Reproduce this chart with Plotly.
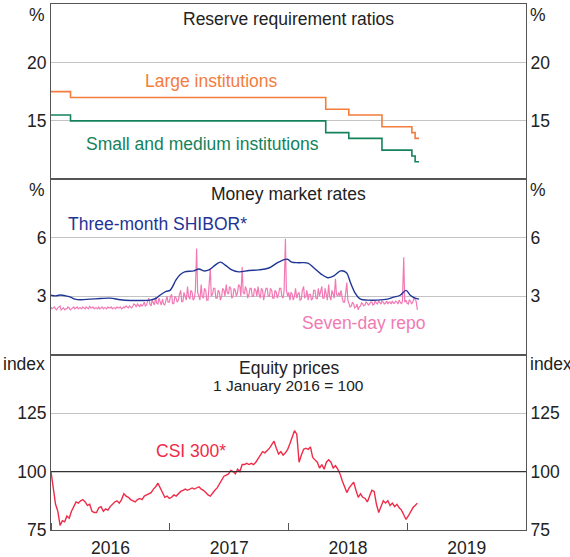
import pandas as pd
import plotly.graph_objects as go
from plotly.subplots import make_subplots

# Reserve requirement ratios (%), step changes
rrr_dates = ["2016-01-01", "2016-03-01", "2018-04-25", "2018-07-05", "2018-10-15",
             "2019-01-15", "2019-01-25", "2019-02-06"]
rrr_large = [17.5, 17.0, 16.0, 15.5, 14.5, 14.0, 13.5, 13.5]
rrr_small = [15.5, 15.0, 14.0, 13.5, 12.5, 12.0, 11.5, 11.5]

# Three-month SHIBOR (%)
shibor_dates = ["2016-01-01", "2016-01-15", "2016-01-29", "2016-02-15", "2016-03-01", "2016-03-15",
                "2016-04-01", "2016-05-01", "2016-06-01", "2016-07-01", "2016-08-01", "2016-09-01",
                "2016-10-01", "2016-11-01", "2016-11-20", "2016-12-01", "2016-12-20", "2017-01-01",
                "2017-01-20", "2017-02-01", "2017-02-15", "2017-03-15", "2017-03-31", "2017-04-15",
                "2017-05-01", "2017-05-20", "2017-06-05", "2017-06-20", "2017-07-10", "2017-08-01",
                "2017-09-01", "2017-10-01", "2017-11-01", "2017-12-01", "2017-12-28", "2018-01-10",
                "2018-02-01", "2018-03-01", "2018-03-20", "2018-04-10", "2018-05-01", "2018-05-20",
                "2018-06-10", "2018-06-28", "2018-07-10", "2018-07-25", "2018-08-10", "2018-09-01",
                "2018-10-01", "2018-11-01", "2018-11-20", "2018-12-10", "2018-12-28", "2019-01-10",
                "2019-01-25", "2019-02-06"]
shibor = [3.05, 3.02, 3.06, 3.02, 2.95, 2.85,
          2.82, 2.85, 2.88, 2.90, 2.82, 2.78,
          2.78, 2.80, 2.90, 3.05, 3.25, 3.30,
          3.85, 4.10, 4.25, 4.30, 4.40, 4.30,
          4.35, 4.60, 4.75, 4.60, 4.35, 4.25,
          4.32, 4.35, 4.45, 4.75, 4.90, 4.75,
          4.72, 4.70, 4.45, 4.15, 3.95, 4.05,
          4.30, 4.20, 3.70, 3.15, 2.85, 2.80,
          2.80, 2.85, 2.95, 3.05, 3.30, 3.05,
          2.90, 2.85]

# Seven-day repo (%), weekly (Fridays) from 1 Jan 2016
repo = [2.45, 2.4, 2.35, 2.4, 2.5, 2.35, 2.3, 2.35, 2.4, 2.35, 2.45,
        2.4, 2.35, 2.4, 2.45, 2.35, 2.4, 2.5, 2.4, 2.35, 2.4,
        2.45, 2.4, 2.35, 2.4, 2.45, 2.4, 2.35, 2.4, 2.45, 2.4,
        2.35, 2.45, 2.5, 2.4, 2.45, 2.5, 2.55, 2.6, 2.45, 2.5,
        2.7, 2.55, 2.9, 2.5, 2.6, 2.95, 2.6, 2.7, 2.85, 2.55, 3.0,
        2.7, 3.1, 2.65, 2.9, 2.8, 3.3, 2.75, 3.0, 3.5, 2.85, 3.2, 2.9,
        5.45, 3.0,
        3.6, 2.9, 3.3, 2.8, 4.45, 3.1, 3.4, 2.9, 3.2, 3.0,
        3.3, 3.6, 3.1, 3.4, 3.0, 3.3, 3.2, 3.5, 4.5, 3.1,
        3.3, 3.1, 3.4, 3.0, 3.3, 3.5, 2.9, 3.3, 3.1, 3.4,
        3.0, 3.3, 2.9, 3.2, 3.1, 3.4, 2.9,
        5.95, 3.0,
        2.8, 3.1, 3.0, 2.9, 3.2, 2.85, 3.5, 3.0, 2.8, 3.1, 2.9,
        3.3, 2.85, 3.0, 3.5, 2.9, 3.1, 3.6, 2.8, 3.1, 3.9, 3.0,
        3.0, 2.9, 2.7, 3.7, 2.6,
        2.5, 2.6, 2.45, 2.3, 2.5, 2.6, 2.55, 2.65, 2.6,
        2.7, 2.6, 2.65, 2.75, 2.6, 2.7, 2.65, 2.6, 2.7, 2.75,
        2.65, 2.7, 2.8, 2.6,
        5.0, 2.8,
        2.6, 2.75, 2.7, 2.85, 2.3]

# Seven-day repo (%), mid-week readings between the Fridays above
repo_mid = [2.35, 2.45, 2.3, 2.45, 2.3, 2.4, 2.35, 2.45, 2.3, 2.4, 2.35,
            2.45, 2.4, 2.35, 2.4, 2.45, 2.35, 2.4, 2.45, 2.4, 2.35,
            2.35, 2.45, 2.4, 2.35, 2.4, 2.45, 2.4, 2.35, 2.4, 2.45,
            2.4, 2.4, 2.45, 2.5, 2.4, 2.6, 2.45, 2.5, 2.6, 2.55,
            2.5, 2.75, 2.6, 2.8, 2.55, 2.65, 2.9, 2.55, 2.6, 2.8, 2.7,
            2.95, 2.6, 3.0, 2.7, 3.1, 2.7, 3.2, 2.8, 3.0, 3.3, 2.8, 3.3,
            3.2, 2.8,
            3.0, 3.4, 2.8, 3.5, 3.0, 3.4, 2.9, 3.3, 2.8, 3.4,
            3.0, 3.2, 3.5, 2.9, 3.4, 3.0, 3.6, 3.0, 3.2, 3.5,
            2.9, 3.4, 3.0, 3.4, 3.0, 3.1, 3.4, 2.8, 3.4, 3.0,
            3.4, 2.9, 3.3, 2.9, 3.4, 3.0, 3.3,
            3.3, 3.2,
            3.2, 2.8, 3.4, 3.1, 2.8, 3.3, 2.9, 3.3, 3.1, 2.8, 3.3,
            2.9, 3.4, 3.3, 2.9, 3.4, 2.8, 3.0, 3.3, 2.9, 3.1, 3.2,
            3.3, 2.7, 3.1, 2.8, 2.45,
            2.7, 2.4, 2.6, 2.45, 2.65, 2.5, 2.7, 2.55, 2.7,
            2.55, 2.75, 2.6, 2.65, 2.75, 2.6, 2.75, 2.7, 2.6, 2.65,
            2.75, 2.6, 2.7, 2.75,
            2.7, 2.65,
            2.8, 2.6, 2.9, 2.75]

# CSI 300 (1 January 2016 = 100), weekly
csi300 = [100, 92, 86, 83, 77, 79, 78.5, 81, 80, 83,
          85, 87, 86.5, 87.5, 88, 87, 85.5, 86, 83, 82.5,
          82.5, 84.5, 85, 83, 84, 83.5, 85, 86, 87, 87.5,
          86.5, 88, 90.5, 89.5, 89, 88, 87.5, 87, 88, 88.5,
          88, 89.5, 90, 90.5, 91, 92.5, 93.5, 95, 93, 91,
          89, 89.5, 88.5, 89, 90, 89.5, 90.5, 91.5, 92, 92.5,
          92, 92.5, 93, 92.5, 93, 93.5, 92.5, 92, 91, 90,
          89.5, 91, 92, 93, 94.5, 96, 98, 98.5, 99, 100.5,
          100, 99, 101, 100, 103, 103, 103.5, 103, 103.5, 103,
          104, 105.5, 107, 108.5, 108, 109, 110, 111.5, 113, 110,
          107.5, 108.5, 107, 108, 109.5, 112, 114.5, 117.5, 116, 104,
          107, 109.5, 110, 109.5, 110.5, 106, 105, 104, 101.5, 103,
          101, 104, 105, 104, 101.5, 102.5, 101, 99, 96, 93,
          91, 93, 94.5, 95.5, 92, 89, 90.5, 89, 88.5, 87,
          89.5, 92, 91.5, 86, 82.5, 85, 87.5, 86.5, 87.5, 85.5,
          86.5, 85, 86, 84.5, 83.5, 81.5, 79.5, 81, 83, 84.5,
          85.5, 86.5]

# interleave weekly and mid-week repo readings
repo_week_dates = pd.date_range("2016-01-01", periods=len(repo), freq="7D")
repo_s = pd.concat([
    pd.Series(repo, index=repo_week_dates),
    pd.Series(repo_mid, index=repo_week_dates[:len(repo_mid)] + pd.Timedelta(days=3)),
]).sort_index()
csi_dates = pd.date_range("2016-01-01", periods=len(csi300), freq="7D")

orange = "#f47c3c"
green = "#14825a"
blue = "#1f3596"
pink = "#f27ab4"
red = "#ee2b48"
axis_col = "#555555"
grid_col = "#c4c4c4"
txt = "#222222"
font = "Liberation Sans, Arial, sans-serif"
fs = 17.5

fig = make_subplots(rows=3, cols=1, shared_xaxes=True, vertical_spacing=0,
                    specs=[[{"secondary_y": True}], [{"secondary_y": True}], [{"secondary_y": True}]])

fig.add_trace(go.Scatter(x=rrr_dates, y=rrr_large, mode="lines", line_shape="hv",
                         line=dict(color=orange, width=1.6), showlegend=False), row=1, col=1)
fig.add_trace(go.Scatter(x=rrr_dates, y=rrr_small, mode="lines", line_shape="hv",
                         line=dict(color=green, width=1.6), showlegend=False), row=1, col=1)
fig.add_trace(go.Scatter(x=repo_s.index, y=repo_s.values, mode="lines",
                         line=dict(color=pink, width=1.2), showlegend=False), row=2, col=1)
fig.add_trace(go.Scatter(x=shibor_dates, y=shibor, mode="lines", line_shape="spline",
                         line=dict(color=blue, width=1.4), showlegend=False), row=2, col=1)
fig.add_trace(go.Scatter(x=csi_dates, y=csi300, mode="lines",
                         line=dict(color=red, width=1.4), showlegend=False), row=3, col=1)

# invisible copies so the right-hand axes get drawn
for i, (xs, ys) in enumerate([(rrr_dates, rrr_large), (shibor_dates, shibor), (csi_dates, csi300)], start=1):
    fig.add_trace(go.Scatter(x=xs[:1], y=ys[:1], mode="markers", marker=dict(opacity=0),
                             hoverinfo="skip", showlegend=False), row=i, col=1, secondary_y=True)

ranges = [(10, 25, [15, 20]), (0, 9, [3, 6]), (75, 150, [75, 100, 125])]
for i, (lo, hi, tv) in enumerate(ranges, start=1):
    for sec in (False, True):
        fig.update_yaxes(range=[lo, hi], tickvals=tv, showgrid=not sec, gridcolor=grid_col,
                         gridwidth=1, showline=True, linecolor=axis_col, linewidth=1.2,
                         ticks="", ticklen=0, zeroline=False, automargin=False,
                         tickfont=dict(size=fs, color=txt, family=font),
                         row=i, col=1, secondary_y=sec)

for i in range(1, 4):
    fig.update_xaxes(range=["2016-01-01", "2020-01-01"], domain=[0, 1], showline=True, mirror=True,
                     linecolor=axis_col, linewidth=1.2, showgrid=False, zeroline=False,
                     automargin=False, row=i, col=1)

fig.update_xaxes(showticklabels=False, ticks="", row=1, col=1)
fig.update_xaxes(showticklabels=False, ticks="", row=2, col=1)
fig.update_xaxes(dtick="M12", tick0="2016-01-01", tickformat="%Y", ticklabelmode="period",
                 ticks="inside", ticklen=7, tickcolor=axis_col, ticklabelstandoff=2,
                 tickfont=dict(size=fs, color=txt, family=font), row=3, col=1)

# darker reference line at 100
fig.add_hline(y=100, line=dict(color="#333333", width=1.2), row=3, col=1)


def note(text, x, yref, y, color, size=fs, xanchor="center", yanchor="middle", xref="x"):
    fig.add_annotation(text=text, x=x, y=y, xref=xref, yref=yref, showarrow=False,
                       xanchor=xanchor, yanchor=yanchor,
                       font=dict(size=size, color=color, family=font))


# panel titles
note("Reserve requirement ratios", 0.5, "y domain", 0.914, txt, xref="paper")
note("Money market rates", 0.5, "y3 domain", 0.914, txt, xref="paper")
note("Equity prices", 0.5, "y5 domain", 0.925, txt, xref="paper")
note("1 January 2016 = 100", 0.5, "y5 domain", 0.825, txt, size=15.5, xref="paper")

# units
for yref, unit, yy in (("y domain", "%", 0.937), ("y3 domain", "%", 0.937), ("y5 domain", "index", 0.949)):
    note(unit, -0.008, yref, yy, txt, xref="paper", xanchor="right")
    note(unit, 1.004, yref, yy, txt, xref="paper", xanchor="left")

# series labels
note("Large institutions", "2017-05-10", "y", 18.45, orange)
note("Small and medium institutions", "2017-04-12", "y", 13.0, green)
note("Three-month SHIBOR*", "2016-11-24", "y3", 6.72, blue)
note("Seven-day repo", "2018-08-22", "y3", 1.65, pink)
note("CSI 300*", "2017-03-06", "y5", 108.9, red)

fig.update_layout(width=570, height=557, margin=dict(l=51, r=44, t=4, b=27),
                  plot_bgcolor="white", paper_bgcolor="white",
                  font=dict(family=font, color=txt))

fig.write_html("out.html", config={"displayModeBar": False},
               post_script="document.body.style.margin='0';")
